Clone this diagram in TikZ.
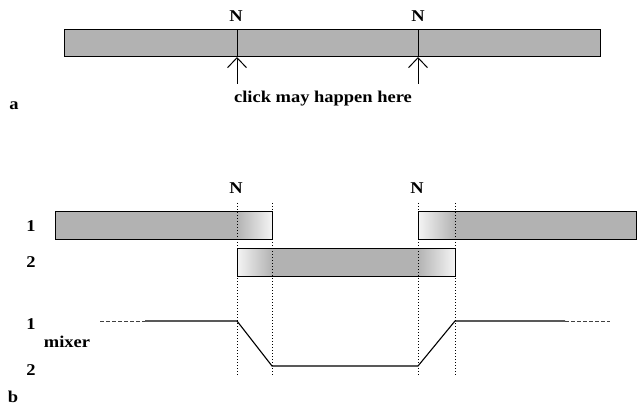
\documentclass[tikz,border=0pt]{standalone}
\usepackage{fontspec}
\usepackage{graphicx}
\setmainfont{Liberation Serif}
\usetikzlibrary{arrows.meta}
\definecolor{barg}{gray}{0.7}
\definecolor{barw}{gray}{0.96}
\newcommand{\wtext}[1]{\scalebox{1.12}[1]{#1}}
\begin{document}
\begin{tikzpicture}[x=1pt,y=-1pt,
  lbl/.style={font=\fontsize{16.5}{16.5}\selectfont\bfseries, inner sep=0pt},
  bar/.style={draw=black, line width=1pt},
  vdot/.style={dotted, line width=1pt},
  tick/.style={line width=1pt},
  clickarrow/.style={line width=1pt, -{Straight Barb[length=10pt,width=19pt,line width=1pt]}},
  mix/.style={line width=1.1pt},
  mixdash/.style={line width=1pt, dashed, dash pattern=on 4pt off 2pt, black!75},
]
\useasboundingbox (0,0) rectangle (637,406);

% ---------- part a ----------
\fill[barg] (64,30) rectangle (600,57);
\draw[bar] (64,30) rectangle (600,57);
\coordinate (a1t) at (237,30); \coordinate (a1b) at (237,57);
\coordinate (a2t) at (418,30); \coordinate (a2b) at (418,57);
\draw[tick] (a1t) -- (a1b);
\draw[tick] (a2t) -- (a2b);
\node[lbl] (na1) at (236,16) {\wtext{N}};
\node[lbl] (na2) at (418,16) {\wtext{N}};
\coordinate (c1) at (237,84);
\coordinate (c2) at (418,84);
\draw[clickarrow] (c1) -- (a1b);
\draw[clickarrow] (c2) -- (a2b);
\node[lbl, anchor=base] (click) at (323,103) {\wtext{click may happen here}};
\node[lbl, anchor=base] (la) at (14,110) {\wtext{a}};

% ---------- part b ----------
% track 1 left
\fill[barg] (55,212) rectangle (237,239);
\shade[left color=barg, right color=barw] (237,212) rectangle (272,239);
\draw[bar] (55,212) rectangle (272,239);
% track 1 right
\shade[left color=barw, right color=barg] (418,212) rectangle (455,239);
\fill[barg] (455,212) rectangle (636,239);
\draw[bar] (418,212) rectangle (636,239);
% track 2
\shade[left color=barw, right color=barg] (237,248) rectangle (272,276);
\fill[barg] (272,248) rectangle (418,276);
\shade[left color=barg, right color=barw] (418,248) rectangle (455,276);
\draw[bar] (237,248) rectangle (455,276);

% dotted guides
\foreach \x/\n in {237/d1,272/d2,418/d3,455/d4}{
  \coordinate (\n t) at (\x,203);
  \coordinate (\n b) at (\x,375);
  \draw[vdot] (\n t) -- (\n b);
}

% mixer curve
\coordinate (m0) at (100,321);
\coordinate (m1) at (145,321);
\coordinate (m2) at (237,321);
\coordinate (m3) at (272,366);
\coordinate (m4) at (418,366);
\coordinate (m5) at (455,321);
\coordinate (m6) at (565,321);
\coordinate (m7) at (610,321);
\draw[mixdash] (m0) -- (m1);
\draw[mix] (m1) -- (m2) -- (m3) -- (m4) -- (m5) -- (m6);
\draw[mixdash] (m6) -- (m7);

% labels
\node[lbl] (nb1) at (236,188) {\wtext{N}};
\node[lbl] (nb2) at (417,188) {\wtext{N}};
\node[lbl, anchor=base] (t1) at (31,232) {\wtext{1}};
\node[lbl, anchor=base] (t2) at (31,267) {\wtext{2}};
\node[lbl, anchor=base] (m1l) at (31,329) {\wtext{1}};
\node[lbl, anchor=base] (mixer) at (67,347) {\wtext{mixer}};
\node[lbl, anchor=base] (m2l) at (31,375) {\wtext{2}};
\node[lbl, anchor=base] (lb) at (13,402) {\wtext{b}};
\end{tikzpicture}
\end{document}
